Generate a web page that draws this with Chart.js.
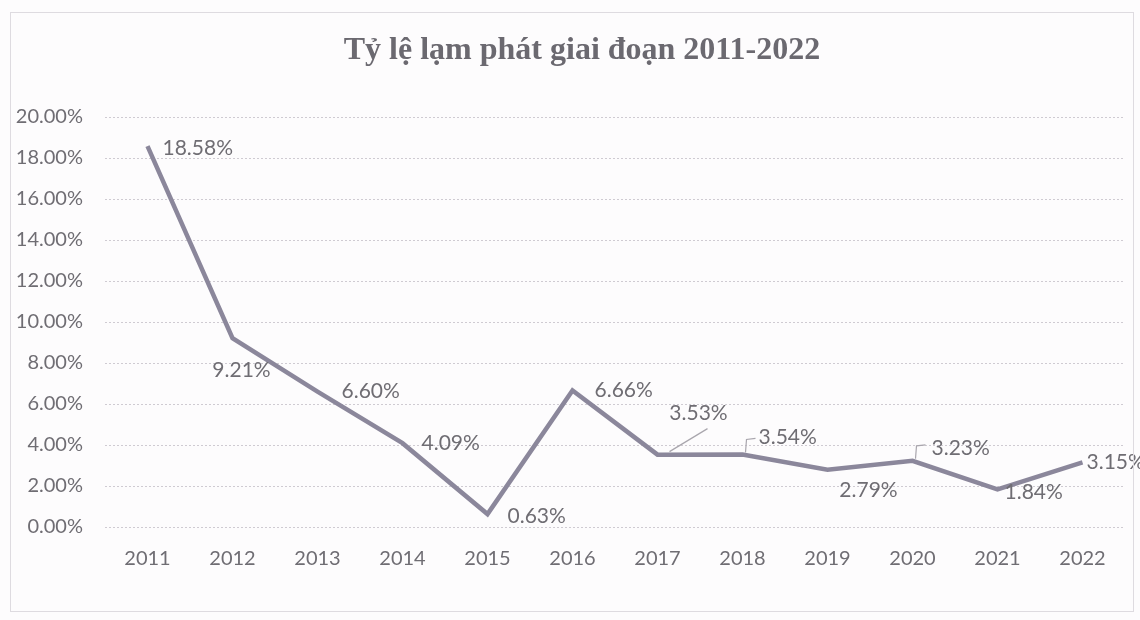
<!DOCTYPE html>
<html>
<head>
<meta charset="utf-8">
<script src="https://cdn.jsdelivr.net/npm/chart.js@4.4.1/dist/chart.umd.min.js"></script>
<style>
  html, body { margin: 0; padding: 0; background: #fdfcfd; }
  #wrap { position: relative; width: 1140px; height: 620px; overflow: hidden; }
  #frame { position: absolute; left: 10px; top: 12px; width: 1124px; height: 600px; border: 1px solid #dedbe0; box-sizing: border-box; }
</style>
</head>
<body>
<div id="wrap">
  <div id="frame"></div>
  <canvas id="chart" width="1140" height="620"></canvas>
</div>
<script>
const chartTitle = 'Tỷ lệ lạm phát giai đoạn 2011-2022';
const years = ['2011', '2012', '2013', '2014', '2015', '2016', '2017', '2018', '2019', '2020', '2021', '2022'];
const inflation = [18.58, 9.21, 6.60, 4.09, 0.63, 6.66, 3.53, 3.54, 2.79, 3.23, 1.84, 3.15];
const yTicks = [0, 2, 4, 6, 8, 10, 12, 14, 16, 18, 20];

// where each data label sits relative to its point: [dx, dy, align, leader]
const labelPlacement = [
  [15, 2, 'left', null],
  [9, 32, 'center', null],
  [24, 0, 'left', null],
  [19, 0, 'left', null],
  [20, 2, 'left', null],
  [22, 0, 'left', null],
  [41, -41, 'center', 'diag'],
  [16, -17, 'left', 'bracket'],
  [41, 20, 'center', null],
  [19, -13, 'left', 'bracket'],
  [7, 3, 'left', null],
  [4, 0, 'left', null],
];

const textColor = '#6f6d73';
const lineColor = '#8b879b';
const tickFont = { family: 'Lato, "Open Sans", sans-serif', size: 20 };

// title sits a little right of the canvas centre, like the original
const titleText = {
  id: 'titleText',
  afterDraw(chart) {
    const ctx = chart.ctx;
    ctx.save();
    ctx.font = 'bold 32px "Liberation Serif", "DejaVu Serif", serif';
    ctx.fillStyle = '#6b6970';
    ctx.textAlign = 'center';
    ctx.textBaseline = 'middle';
    ctx.fillText(chartTitle, 582, 51);
    ctx.restore();
  }
};

const dataLabels = {
  id: 'dataLabels',
  afterDatasetsDraw(chart) {
    const ctx = chart.ctx;
    const meta = chart.getDatasetMeta(0);
    ctx.save();
    ctx.font = '21px Lato, "Open Sans", sans-serif';
    ctx.fillStyle = textColor;
    ctx.textBaseline = 'middle';
    meta.data.forEach((pt, i) => {
      const [dx, dy, align, leader] = labelPlacement[i];
      const tx = pt.x + dx, ty = pt.y + dy;
      ctx.textAlign = align;
      ctx.fillText(inflation[i].toFixed(2) + '%', tx, ty);
      ctx.strokeStyle = '#a9a6ad';
      ctx.lineWidth = 1.2;
      if (leader === 'diag') {
        ctx.beginPath();
        ctx.moveTo(pt.x + 12, pt.y - 3);
        ctx.lineTo(pt.x + 50, pt.y - 26);
        ctx.stroke();
      } else if (leader === 'bracket') {
        ctx.beginPath();
        ctx.moveTo(pt.x + 3, pt.y - 2);
        ctx.lineTo(pt.x + 4, pt.y - 15);
        ctx.lineTo(pt.x + 13, pt.y - 16);
        ctx.stroke();
      }
    });
    ctx.restore();
  }
};

new Chart(document.getElementById('chart'), {
  type: 'line',
  data: {
    labels: years,
    datasets: [{
      data: inflation,
      borderColor: lineColor,
      borderWidth: 4.5,
      pointRadius: 0,
      tension: 0,
      clip: false,
    }],
  },
  options: {
    responsive: false,
    animation: false,
    layout: { padding: { top: 117, right: 15, bottom: 37, left: 0 } },
    plugins: {
      legend: { display: false },
      tooltip: { enabled: false },
      title: { display: false },
    },
    scales: {
      x: {
        offset: true,
        grid: { display: false },
        border: { display: false },
        ticks: { color: textColor, font: tickFont, padding: 12 },
      },
      y: {
        min: 0,
        max: 20,
        afterFit(scale) { scale.width = 105; },
        afterBuildTicks(scale) { scale.ticks = yTicks.map(v => ({ value: v })); },
        grid: { color: '#cfcbd2', drawTicks: false, lineWidth: 1 },
        border: { display: false, dash: [2, 2] },
        ticks: {
          color: textColor,
          font: tickFont,
          padding: 22,
          callback: v => v.toFixed(2) + '%',
        },
      },
    },
  },
  plugins: [dataLabels, titleText],
});
</script>
</body>
</html>
